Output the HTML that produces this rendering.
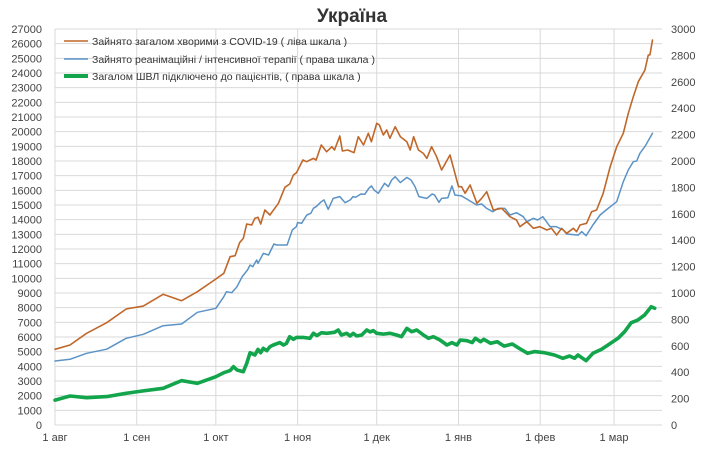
<!DOCTYPE html>
<html><head><meta charset="utf-8">
<style>
html,body{margin:0;padding:0;background:#fff;}
svg text{font-family:"Liberation Sans",sans-serif;}
</style></head>
<body>
<svg id="chart" width="713" height="456" viewBox="0 0 713 456" xmlns="http://www.w3.org/2000/svg">
<text x="352" y="22" text-anchor="middle" font-size="19" font-weight="bold" fill="#333">Україна</text>
<g id="grid"></g>
<g id="axes"></g>
<g id="series"></g>
<g>
<line x1="64" y1="41" x2="88" y2="41" stroke="#c0672a" stroke-width="1.6"/>
<text x="92" y="45" font-size="10.5" fill="#333">Зайнято загалом хворими з COVID-19 ( ліва шкала )</text>
<line x1="64" y1="59" x2="88" y2="59" stroke="#5b93c7" stroke-width="1.6"/>
<text x="92" y="63" font-size="10.5" fill="#333">Зайнято реанімаційні / інтенсивної терапії ( права шкала )</text>
<line x1="64" y1="76" x2="88" y2="76" stroke="#13a54b" stroke-width="4"/>
<text x="92" y="80" font-size="10.5" fill="#333">Загалом ШВЛ  підключено до пацієнтів, ( права шкала )</text>
</g>
</svg>
<script>
const monthLabels = ["1 авг","1 сен","1 окт","1 ноя","1 дек","1 янв","1 фев","1 мар"];
const monthDays = [0,31,61,92,122,153,184,212];
const leftTicks = [0,1000,2000,3000,4000,5000,6000,7000,8000,9000,10000,11000,12000,13000,14000,15000,16000,17000,18000,19000,20000,21000,22000,23000,24000,25000,26000,27000];
const rightTicks = [0,200,400,600,800,1000,1200,1400,1600,1800,2000,2200,2400,2600,2800,3000];

const totalDays = [0,5.7,12,19.6,27,33.5,41,48,54,61,64,66.4,68.3,70,71.4,72.7,74.6,75.8,77,78,79.6,81.5,84.7,87.2,89,90.4,91.6,94,95.4,98,99,101,103,105,106,108,109,111,113.4,115,117,118.8,120,122,123,124.5,125.8,127,129,131,133.4,134.7,136,137.8,139.7,141,142.8,144.7,146.6,149.8,153,154.2,155.5,157.4,160,161.8,163.7,166.2,169.4,172.5,175,176.3,178.9,181.4,183.9,186.5,188.3,190.2,192.1,194,196.6,197.8,199.1,201.6,203.5,205.4,207.9,210.5,213,215.5,217.4,219.3,221.2,223.7,225,225.6,226.6];
const totalValues = [5160,5455,6250,6975,7910,8110,8910,8475,9090,9955,10340,11475,11545,12430,12725,13705,13635,14090,14160,13705,14660,14320,15115,16205,16430,17045,17200,18070,17950,18180,18070,19090,18630,18975,18750,19705,18680,18750,18565,19660,19090,19890,19315,20570,20455,19770,20115,19545,20340,19655,19315,18750,19655,18750,18520,18180,18975,18295,17385,18410,16250,16250,15795,16365,15115,15455,15910,14660,14775,14205,13980,13520,13860,13410,13520,13295,13410,12955,13410,13070,13410,13180,13635,13750,14545,14660,15795,17590,18975,19890,21250,22385,23405,24200,25225,25225,26250];

const icuDays = [0,5.7,12,19.6,27,33.5,41,48,54,61,64,65,67,69,71,73,74,75,76.5,77,79,81,83,84,88,90,91.5,92,93.5,95.5,97,98,99,101,102,103.6,105.5,108,110,112,113,114,116,117.5,119,120,121,122.6,125,126.4,127.7,129,131,133.4,135,136.5,138,141,143,144,145.6,146.6,149,150.5,151.7,154,156.7,159.9,161.8,163.7,166,168,170.6,172.5,175,177.6,178.9,181.4,183,185,187.7,190,192.8,194,198.4,199.7,201.4,204,206.7,209,213,215.5,217.4,219.3,220.6,221.8,223.7,226.6];
const icuValues = [485,498,543,574,657,687,752,765,854,884,972,1010,1002,1048,1124,1174,1212,1199,1250,1225,1300,1288,1371,1364,1364,1477,1502,1533,1528,1591,1604,1642,1654,1692,1705,1634,1717,1730,1684,1705,1730,1725,1750,1748,1793,1811,1780,1755,1831,1806,1856,1881,1836,1876,1856,1806,1730,1717,1750,1742,1687,1717,1722,1811,1742,1737,1705,1667,1674,1641,1616,1641,1641,1591,1608,1578,1540,1566,1553,1578,1503,1503,1477,1447,1439,1465,1434,1515,1591,1629,1692,1843,1932,1995,2000,2058,2109,2210];

const ventDays = [0,5.7,12,19.6,27,33.5,41,48,54,61,64,66.4,67.7,69,71.4,72.7,74,75.8,77,78,79,80.3,81.5,82.8,85.3,86.6,87.8,89,90.4,91.6,94,96.7,98,99.3,101.1,103,106,107.4,108.6,110.6,111.9,113.1,114.4,116.3,118.2,119.5,120.7,122,124.5,127,129.5,131.4,133.4,135.3,137.2,139.7,141.6,143.5,146,148.6,150.5,152.4,153.7,156.2,158.2,159.4,161.4,162.6,165.2,167.7,170.3,173.4,176,179.2,181.8,185.6,189.4,192.6,195.1,197,198.3,201.4,204,207.2,209.7,213.5,216,218.5,221,223.6,226.1,227.4];
const ventValues = [189,220,207,215,240,258,278,336,316,366,396,412,442,417,404,467,548,530,573,548,581,563,593,606,624,606,619,669,649,664,664,657,695,677,699,695,702,720,682,695,674,695,674,682,720,705,715,695,689,695,682,669,732,707,720,682,657,669,644,606,624,606,644,639,624,657,631,649,619,631,598,614,581,543,556,548,530,505,523,505,530,487,543,573,606,657,707,775,795,833,896,884];

const NS = "http://www.w3.org/2000/svg";
const X0 = 55, X1 = 662, Y0 = 425, Y1 = 29, PX_PER_DAY = 2.637;
const xScale = d => X0 + d * PX_PER_DAY;
const yLeft = v => Y0 - (v / 27000) * (Y0 - Y1);
const yRight = v => Y0 - (v / 3000) * (Y0 - Y1);
function mk(tag, attrs, parent){const e=document.createElementNS(NS,tag);for(const k in attrs)e.setAttribute(k,attrs[k]);parent.appendChild(e);return e;}
const grid = document.getElementById('grid'), axes = document.getElementById('axes'), series = document.getElementById('series');

leftTicks.forEach(v=>{
  const y = yLeft(v);
  const gl = mk('line',{x1:X0,x2:X1,y1:y,y2:y,stroke:'#d9d9d9','stroke-width':1},grid);
  
  
  const t = mk('text',{x:42,y:y+4,'text-anchor':'end','font-size':11,fill:'#444'},axes);
  t.textContent = v;
  
  
});
rightTicks.forEach(v=>{
  const t = mk('text',{x:671,y:yRight(v)+4,'font-size':11,fill:'#444'},axes);
  t.textContent = v;
  
  
});
monthDays.forEach((d,i)=>{
  const x = xScale(d);
  const vl = mk('line',{x1:x,x2:x,y1:Y1,y2:Y0,stroke:'#d9d9d9','stroke-width':1},grid);
  
  
  const t = mk('text',{x:x,y:441,'text-anchor':'middle','font-size':11,fill:'#444'},axes);
  t.textContent = monthLabels[i];
  
  
});
function drawLine(days, vals, yf, color, w, name){
  const pts = days.map((d,i)=>xScale(d).toFixed(1)+','+yf(vals[i]).toFixed(1)).join(' ');
  const p = mk('polyline',{points:pts,fill:'none',stroke:color,'stroke-width':w,'stroke-linejoin':'round','stroke-linecap':'round'},series);
  
  
}
drawLine(icuDays, icuValues, yRight, '#5b93c7', 1.5, 'icu-line');
drawLine(totalDays, totalValues, yLeft, '#c0672a', 1.6, 'total-occupied-line');
drawLine(ventDays, ventValues, yRight, '#13a54b', 3.6, 'ventilator-line');
</script>
</body></html>
